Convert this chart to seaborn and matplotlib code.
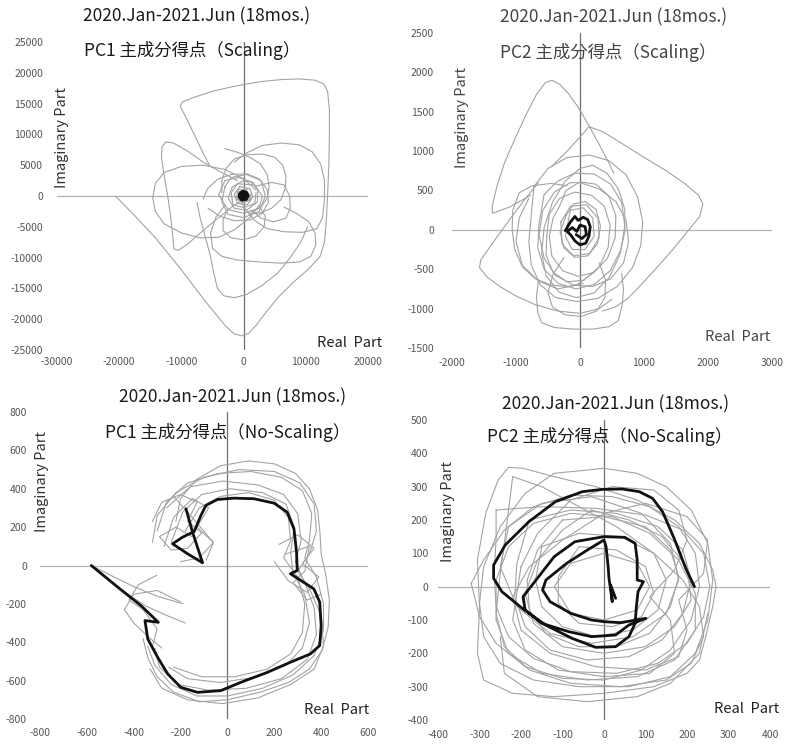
import matplotlib
matplotlib.use("Agg")
import matplotlib.pyplot as plt
import numpy as np
import pandas as pd
import seaborn as sns

# ---------------- PC1 (Scaling) trajectories ----------------
tl_ticks_x = [-30000, -20000, -10000, 0, 10000, 20000]
tl_ticks_y = [25000, 20000, 15000, 10000, 5000, 0, -5000, -10000, -15000, -20000, -25000]

tl_a = [(-5500, 5000), (-7000, 8000), (-8800, 11800), (-10200, 14600), (-9800, 15300), (-8000, 16000),
        (-5000, 17000), (-2000, 17700), (0, 18100), (3000, 18600), (6000, 18900), (9000, 19000),
        (11500, 18800), (12900, 18200), (13500, 17000), (13800, 14000), (13800, 10000), (13700, 5000),
        (13500, 0), (13300, -4000), (13000, -7500), (12300, -9800), (10500, -11800), (8000, -14000),
        (5500, -16500), (3500, -19000), (2000, -21000), (800, -22300), (-300, -22700), (-1500, -22400),
        (-3000, -21000), (-6000, -17300), (-10000, -12000), (-14000, -7000), (-17500, -3200), (-20600, 0)]
tl_b = [(-1000, 2500), (-3500, 3800), (-6500, 5500), (-9000, 7300), (-11300, 8600), (-12500, 8800),
        (-13100, 8000), (-13200, 6200), (-12800, 3500), (-12200, 0), (-11700, -3500), (-11400, -6500),
        (-11200, -8600), (-10500, -8800), (-9000, -7800), (-6500, -5600), (-4000, -3500), (-1500, -1500), (0, -500)]
tl_c = [(2000, 1000), (0, 2800), (-3000, 4300), (-6500, 5000), (-10000, 4800), (-12800, 3800),
        (-14200, 2000), (-14600, -300), (-14200, -2500), (-12800, -4500), (-10000, -6000), (-7000, -6800),
        (-4000, -6700), (-1500, -5500), (1000, -3500), (2500, -1500)]
tl_d = [(-1500, 5500), (500, 7000), (3000, 8200), (6000, 8600), (9000, 8300), (11000, 7200), (12400, 5200),
        (13000, 2500), (13000, -500), (12700, -3500), (11800, -5300), (9500, -5900), (6500, -5800),
        (3800, -5300), (1800, -4000), (400, -2300), (-500, -800)]
tl_e = [(-3000, -1500), (-4500, -3500), (-5300, -6000), (-5000, -8500), (-3500, -9800), (-1000, -10400),
        (2500, -10700), (6000, -10900), (9000, -10700), (10800, -9800), (11600, -8000), (11500, -6000),
        (10500, -4200), (8500, -2800), (6500, -1800)]
tl_f = [(-7500, -1000), (-7000, -3500), (-6200, -6500), (-5400, -9500), (-4800, -12500), (-4200, -15000),
        (-3200, -16200), (-1500, -16500), (500, -16000), (3000, -14500), (5500, -12500), (7500, -10000),
        (9200, -7500), (10300, -5000)]
tl_g = [(-3500, 500), (-3500, 2500), (-2800, 4500), (-1500, 6000), (500, 6700), (3000, 6800), (5000, 6300),
        (6300, 5000), (6800, 3200), (6700, 1200), (6000, -600), (4500, -2000), (2500, -2800), (800, -2800)]
tl_h = [(-3000, 7700), (-1000, 7100), (1000, 6300), (2700, 5200), (3800, 3500), (4100, 1500), (3800, -300),
        (2800, -1800), (1200, -2600)]
tl_i = [(2000, 1600), (4500, 2200), (6500, 1800), (7400, 0), (7500, -2000), (6800, -3600), (4800, -4200),
        (2800, -3600), (1200, -2300)]
tl_j = [(-6500, -500), (-5800, 1200), (-4200, 2700), (-2000, 3500), (500, 3600), (2500, 2800), (3800, 1000),
        (4000, -1000), (3000, -2800), (1000, -3900), (-1500, -4000), (-3800, -3300), (-5700, -2000)]
tl_k = [(-2500, -2000), (-3300, -3800), (-3300, -5600), (-2000, -6800), (0, -7100), (2000, -6500),
        (3300, -5000), (3500, -3300), (2500, -1600)]
tl_s1 = [(0, 2500), (-1800, 1500), (-2500, -300), (-1500, -2000), (500, -2300), (2200, -1000),
         (2300, 1000), (1200, 2300), (0, 2500)]
tl_s2 = [(1500, 1800), (-1000, 2000), (-2000, 500), (-1700, -1400), (0, -1900), (1800, -1200), (2000, 600)]
tl_s3 = [(-600, 1500), (-1500, 300), (-1000, -1200), (600, -1400), (1500, -200), (1000, 1200), (-600, 1500)]
tl_s4 = [(700, 1100), (-900, 1000), (-1200, -400), (-200, -1100), (1100, -700), (1200, 500)]
tl_s5 = [(-3000, 1500), (-3500, -1000), (-2500, -3000), (0, -3500), (2500, -2500), (3500, 0), (2800, 2500),
         (500, 3500), (-2000, 3000), (-3000, 1500)]
tl_s6 = [(1000, -500), (300, 900), (-800, 700), (-900, -500), (0, -1000), (1000, -500)]
tl_s7 = [(-4000, 200), (-3000, 2500), (-800, 3000), (1500, 2200), (3000, 0), (2500, -2000), (0, -2800),
         (-2500, -2200), (-4000, 200)]
tl_black = [(-600, 300), (-200, 700), (400, 600), (700, 100), (400, -500), (-300, -600), (-700, -100),
            (-300, 400), (200, 350), (400, -100), (0, -300), (-300, 0)]

# ---------------- PC2 (Scaling) trajectories ----------------
tr_ticks_x = [-2000, -1000, 0, 1000, 2000, 3000]
tr_ticks_y = [2500, 2000, 1500, 1000, 500, 0, -500, -1000, -1500]

tr_a = [(-770, 440), (-900, 380), (-1100, 290), (-1370, 210), (-1370, 300), (-1300, 550), (-1180, 850),
        (-1020, 1150), (-850, 1450), (-680, 1720), (-540, 1870), (-440, 1900), (-320, 1850), (-180, 1730),
        (-30, 1560), (120, 1350), (270, 1130), (400, 930), (530, 720)]
tr_b = [(-450, 800), (-200, 1000), (0, 1180), (140, 1310), (350, 1250), (650, 1100), (1000, 920),
        (1350, 750), (1650, 580), (1850, 440), (1920, 330), (1870, 170), (1700, 0), (1450, -250),
        (1200, -480), (950, -700), (750, -870), (550, -980), (350, -1030)]
tr_c = [(-650, 600), (-850, 400), (-1100, 130), (-1350, -150), (-1550, -380), (-1570, -480), (-1450, -600),
        (-1250, -720), (-1000, -840), (-700, -950), (-350, -1030), (0, -1060), (300, -1000), (500, -880)]
tr_d = [(-650, -650), (-680, -850), (-660, -1050), (-600, -1180), (-400, -1240), (-100, -1260), (200, -1260),
        (450, -1230), (600, -1150), (660, -950), (680, -750), (650, -550)]
tr_e = [(-720, 550), (-500, 780), (-200, 920), (150, 950), (450, 880), (720, 700), (900, 420), (980, 100),
        (950, -200), (820, -480), (580, -720), (280, -870), (-50, -910), (-380, -860), (-620, -700),
        (-760, -450), (-800, -150), (-760, 200), (-720, 550)]
tr_f = [(-560, 450), (-350, 620), (-80, 720), (220, 710), (480, 580), (650, 350), (700, 50), (640, -250),
        (470, -520), (230, -690), (-60, -750), (-340, -680), (-560, -500), (-660, -230), (-640, 80), (-560, 450)]
tr_g = [(-200, 560), (-450, 590), (-750, 560), (-950, 470), (-1050, 250), (-1060, 0), (-1020, -250),
        (-900, -470), (-700, -620), (-450, -700), (-200, -720), (50, -680)]
tr_h = [(-320, 300), (-220, 500), (0, 610), (250, 580), (450, 430), (560, 180), (550, -100), (430, -360),
        (220, -540), (-30, -590), (-270, -520), (-440, -330), (-480, -80), (-420, 150), (-320, 300)]
tr_i = [(-520, -80), (-480, 200), (-320, 400), (-80, 480), (180, 440), (380, 300), (470, 60), (440, -220),
        (300, -470), (60, -640), (-200, -660), (-420, -540), (-530, -320), (-520, -80)]
tr_j = [(200, 820), (420, 720), (600, 520), (700, 260), (700, -20), (620, -320), (460, -600), (220, -800),
        (-60, -860), (-330, -790), (-530, -580), (-600, -300), (-560, 30), (-430, 350), (-230, 620), (0, 780), (200, 820)]
tr_k = [(-250, -350), (-420, -560), (-500, -800), (-430, -980), (-230, -1080), (20, -1100), (260, -1030),
        (390, -860), (400, -640), (300, -420)]
tr_l = [(-220, 180), (-100, 330), (80, 360), (250, 260), (320, 50), (270, -180), (120, -330), (-80, -350),
        (-250, -230), (-310, -30), (-220, 180)]
tr_m = [(0, 600), (300, 520), (560, 360), (720, 120), (760, -150), (680, -420), (480, -620), (200, -720),
        (-100, -700), (-380, -580), (-560, -360), (-640, -60), (-580, 250), (-400, 480), (-150, 600), (0, 600)]
tr_n = [(-800, 400), (-950, 150), (-1000, -150), (-900, -450), (-650, -650), (-350, -750), (-50, -700), (200, -550)]
tr_p = [(-300, 100), (-150, 300), (100, 320), (280, 150), (300, -100), (150, -300), (-100, -330),
        (-280, -180), (-300, 100)]
tr_q = [(-150, 250), (50, 280), (200, 150), (220, -80), (80, -250), (-120, -250), (-230, -80), (-150, 250)]
tr_black = [(-230, -10), (-150, 100), (-80, 170), (-30, 120), (50, 160), (120, 130), (160, 40),
            (140, -80), (90, -170), (0, -190), (-80, -140), (-140, -70), (-200, -20), (-120, 30),
            (-50, -20), (0, 60), (80, 40), (100, -60), (30, -110), (-60, -60)]

# ---------------- PC1 (No-Scaling) trajectories ----------------
bl_ticks_x = [-800, -600, -400, -200, 0, 200, 400, 600]
bl_ticks_y = [800, 600, 400, 200, 0, -200, -400, -600, -800]

bl_g1 = [(-220, 230), (-200, 350), (-130, 450), (-30, 520), (90, 545), (200, 530), (290, 480), (350, 400),
         (385, 290), (395, 170), (400, 60), (420, -50), (435, -180), (430, -320), (405, -440), (350, -540),
         (260, -610), (140, -660), (0, -700), (-120, -710), (-230, -660), (-300, -580), (-340, -480), (-360, -380)]
bl_g2 = [(-300, 180), (-260, 330), (-170, 430), (-40, 480), (100, 490), (230, 460), (320, 390), (360, 270),
         (350, 130), (330, 40), (380, -60), (410, -200), (410, -340), (370, -470), (280, -570), (150, -640),
         (0, -680), (-130, -680), (-240, -620), (-310, -520), (-340, -420)]
bl_g3 = [(-260, 300), (-160, 410), (-20, 440), (130, 420), (240, 370), (300, 270), (315, 130), (290, 20),
         (330, -90), (370, -220), (380, -360), (340, -490), (230, -590), (80, -640), (-80, -650), (-210, -620),
         (-290, -530), (-310, -430)]
bl_g4 = [(-240, 120), (-190, 280), (-110, 370), (10, 400), (150, 380), (250, 320), (285, 200), (270, 70),
         (280, -40), (330, -150), (350, -300), (320, -430), (250, -520), (130, -580), (-30, -610),
         (-170, -590), (-250, -530)]
bl_g5 = [(-320, 230), (-280, 330), (-200, 370), (-130, 330), (-170, 230), (-110, 170), (-170, 90),
         (-240, 80), (-290, 150), (-220, 200), (-150, 150)]
bl_g6 = [(220, 110), (300, 160), (370, 90), (320, 10), (390, -60), (340, -140), (260, -80), (200, 20)]
bl_g7 = [(-580, 0), (-500, -50), (-400, -110), (-300, -160), (-190, -200)]
bl_g8 = [(-560, -20), (-450, -130), (-350, -210), (-260, -260), (-180, -300)]
bl_g9 = [(-200, -190), (-300, -130), (-400, -150), (-440, -230), (-400, -300), (-330, -380), (-280, -430)]
bl_g10 = [(-320, 120), (-300, 260), (-220, 380), (-100, 460), (50, 500), (200, 490), (310, 430), (370, 320),
          (380, 180), (350, 60), (300, -30), (350, -120), (400, -260), (410, -420), (370, -540), (270, -620),
          (130, -690), (-20, -720), (-170, -700), (-280, -640), (-330, -540)]
bl_g11 = [(-180, 180), (-120, 300), (-30, 360), (90, 380), (200, 340), (260, 250), (270, 130), (240, 40),
          (300, -60), (330, -200), (320, -350), (270, -460), (170, -540), (30, -580), (-110, -580), (-230, -530)]
bl_g12 = [(-270, 100), (-230, 250), (-150, 350), (-80, 300), (-130, 200), (-60, 120), (-120, 40), (-200, 20)]
bl_g13 = [(-230, 360), (-150, 250), (-60, 120), (-90, 30)]
bl_g14 = [(250, 60), (350, 100), (330, -30), (280, -90), (340, -180), (400, -150)]
bl_g15 = [(-300, -50), (-380, -100), (-420, -180), (-360, -230), (-300, -330), (-320, -420)]
bl_black = [(-177, 296), (-149, 174), (-106, 14), (-170, 61), (-234, 113), (-191, 148), (-142, 177),
            (-113, 261), (-92, 313), (-43, 344), (28, 351), (113, 348), (199, 325), (255, 278), (284, 191),
            (295, 70), (298, -26), (269, -43), (369, -122), (394, -191), (400, -313), (394, -417),
            (354, -461), (269, -504), (170, -557), (57, -609), (-28, -652), (-128, -661), (-199, -635),
            (-255, -565), (-298, -478), (-340, -383), (-352, -287), (-295, -296), (-369, -209),
            (-468, -113), (-581, 0)]

# ---------------- PC2 (No-Scaling) trajectories ----------------
br_ticks_x = [-400, -300, -200, -100, 0, 100, 200, 300, 400]
br_ticks_y = [500, 400, 300, 200, 100, 0, -100, -200, -300, -400]

br_r1 = [(-300, -60), (-305, 80), (-285, 220), (-255, 320), (-230, 358), (-195, 355), (-120, 330), (-20, 300),
         (80, 260), (170, 200), (230, 130), (262, 50), (270, 0), (262, -60), (245, -150), (230, -220),
         (200, -260), (120, -300), (0, -320), (-120, -330), (-220, -320), (-290, -280), (-305, -200), (-300, -60)]
br_r2 = [(-120, 340), (0, 355), (80, 340), (150, 300), (210, 230), (250, 130), (262, 20), (250, -100),
         (220, -200), (160, -270), (60, -300), (-60, -300), (-170, -280), (-250, -230), (-290, -150),
         (-300, -50), (-290, 60), (-250, 180), (-190, 280), (-120, 340)]
br_r3 = [(-320, 10), (-290, 80), (-240, 170), (-170, 240), (-80, 275), (20, 270), (110, 240), (180, 180),
         (220, 100), (230, 0), (210, -100), (160, -190), (90, -250), (0, -280), (-100, -275), (-190, -240),
         (-260, -170), (-300, -90), (-320, 10)]
br_r4 = [(-260, 230), (-150, 240), (-20, 235), (100, 215), (190, 170), (240, 100), (255, 0), (240, -90),
         (200, -170), (130, -230), (30, -260), (-80, -255), (-170, -215), (-230, -150), (-260, -60),
         (-265, 40), (-260, 140), (-260, 230)]
br_r5 = [(-220, 330), (-150, 300), (-60, 240), (30, 180), (120, 100), (190, 20), (230, -60), (240, -150),
         (210, -230), (150, -280), (40, -300), (-80, -290), (-180, -250), (-240, -180), (-260, -80),
         (-250, 40), (-235, 180), (-220, 330)]
br_r6 = [(-180, 200), (-80, 230), (30, 220), (130, 180), (190, 110), (210, 20), (190, -80), (140, -160),
         (60, -210), (-40, -220), (-130, -190), (-190, -120), (-215, -30), (-210, 70), (-180, 200)]
br_r7 = [(-100, 200), (0, 210), (100, 180), (160, 110), (180, 30), (160, -60), (110, -140), (30, -180),
         (-60, -180), (-140, -140), (-180, -70), (-185, 20), (-160, 110), (-100, 200)]
br_r8 = [(-30, 230), (60, 200), (140, 150), (200, 60), (210, -40), (170, -120), (100, -180), (0, -200),
         (-100, -180), (-170, -110), (-190, -20), (-160, 80), (-100, 170), (-30, 230)]
br_r9 = [(-150, 120), (-60, 160), (40, 150), (120, 100), (150, 20), (130, -70), (70, -130), (-20, -150),
         (-100, -120), (-150, -60), (-165, 20), (-150, 120)]
br_r10 = [(-60, 120), (30, 110), (100, 60), (120, -20), (90, -90), (20, -120), (-60, -110), (-110, -50),
          (-110, 30), (-60, 120)]
br_r11 = [(-200, 60), (-160, 160), (-80, 260), (20, 300), (120, 290), (180, 230), (200, 140), (170, 50),
          (110, -30), (160, -100), (170, -200), (110, -260), (0, -270), (-110, -250), (-190, -190),
          (-220, -100), (-200, 60)]
br_r12 = [(100, 250), (200, 210), (250, 140), (240, 40), (180, -40), (200, -130), (180, -210), (100, -250),
          (-20, -240), (-130, -200), (-200, -130), (-220, -30), (-180, 60), (-100, 140), (0, 220), (100, 250)]
br_r13 = [(-260, -100), (-230, -200), (-150, -260), (-40, -280), (80, -270), (170, -220), (220, -130),
          (220, -20), (180, 80), (110, 160), (20, 210), (-80, 220), (-170, 190), (-230, 120), (-260, 20), (-260, -100)]
br_r14 = [(0, 100), (80, 70), (110, 0), (80, -70), (0, -100), (-80, -80), (-120, 0), (-80, 70), (0, 100)]
br_r15 = [(-30, 270), (-150, 250), (-230, 180), (-250, 60), (-210, -60), (-130, -140), (-30, -170),
          (70, -150), (150, -80), (180, 20), (160, 130), (90, 220), (-30, 270)]
br_r16 = [(-250, -150), (-240, -260), (-160, -330), (-40, -345), (80, -330), (160, -290), (230, -200), (250, -80)]
br_black = [(28, -35), (16, 5), (20, -45), (12, 25), (10, 60), (5, 120), (0, 140), (-40, 110), (-90, 70),
            (-140, 20), (-148, -10), (-130, -45), (-80, -80), (-30, -100), (0, -105), (40, -108), (101, -95),
            (60, -115), (28, -145), (-30, -150), (-85, -135), (-150, -110), (-190, -70), (-195, -30),
            (-170, 10), (-120, 90), (-70, 135), (0, 150), (50, 148), (75, 130), (80, 80), (80, 20), (95, 15),
            (82, -15), (78, -60), (75, -110), (60, -150), (28, -180), (-20, -182), (-77, -155), (-141, -115),
            (-197, -65), (-246, -15), (-266, 25), (-266, 65), (-238, 125), (-181, 195), (-117, 255),
            (-52, 285), (-4, 292), (44, 293), (85, 285), (117, 265), (141, 225), (169, 145), (197, 55), (218, 0)]

title_top = "2020.Jan-2021.Jun (18mos.)"

W, H = 790, 744
sns.set_theme(style="white")
plt.rcParams["font.family"] = ["Noto Sans CJK JP", "DejaVu Sans"]

fig = plt.figure(figsize=(W / 100, H / 100), dpi=100)
fig.patch.set_facecolor("white")


def frame(curves):
    parts = []
    for k, c in enumerate(curves):
        arr = np.array(c, dtype=float)
        parts.append(pd.DataFrame({"x": arr[:, 0], "y": arr[:, 1], "k": k}))
    return pd.concat(parts, ignore_index=True)


def panel(box, xlim, ylim, xt, yt, gray, black, black_lw, ypad, xpad):
    x0, y0, x1, y1 = box
    ax = fig.add_axes([x0 / W, 1 - y1 / H, (x1 - x0) / W, (y1 - y0) / H])
    ax.set_xlim(*xlim)
    ax.set_ylim(*ylim)
    ax.axhline(0, color="#b4b4b4", lw=0.9, zorder=1)
    ax.axvline(0, color="#6e6e6e", lw=0.9, zorder=1)
    sns.lineplot(data=frame(gray), x="x", y="y", units="k", estimator=None, sort=False,
                 color="#a3a3a3", lw=0.8, ax=ax, legend=False, zorder=2,
                 solid_joinstyle="round")
    sns.lineplot(data=frame(black), x="x", y="y", units="k", estimator=None, sort=False,
                 color="#111111", lw=black_lw, ax=ax, legend=False, zorder=3,
                 solid_joinstyle="round")
    ax.set_xticks(xt)
    ax.set_yticks(yt)
    ax.set_xticklabels([str(v) for v in xt])
    ax.set_yticklabels([str(v) for v in yt])
    ax.tick_params(axis="y", length=0, pad=ypad, labelsize=7.5, labelcolor="#555555")
    ax.tick_params(axis="x", length=0, pad=xpad, labelsize=7.5, labelcolor="#555555")
    ax.set_xlabel("")
    ax.set_ylabel("")
    for s in ax.spines.values():
        s.set_visible(False)
    ax.set_facecolor("none")
    ax.grid(False)
    return ax


def ftext(x, y, s, **kw):
    fig.text(x / W, 1 - y / H, s, ha="center", va="center", **kw)


TFS = 12.5
# top-left
panel((57, 42, 368, 350), (-30000, 20000), (-25000, 25000), tl_ticks_x, tl_ticks_y,
      [tl_a, tl_b, tl_c, tl_d, tl_e, tl_f, tl_g, tl_h, tl_i, tl_j, tl_k,
       tl_s1, tl_s2, tl_s3, tl_s4, tl_s5, tl_s6, tl_s7],
      [tl_black], 2.5, 10, 5)
ftext(197, 16, title_top, fontsize=TFS, color="#1a1a1a")
ftext(192, 50, "PC1 主成分得点（Scaling）", fontsize=TFS, color="#1a1a1a")
ftext(62, 138, "Imaginary Part", fontsize=10.5, color="#333333", rotation=90)
ftext(350, 343, "Real  Part", fontsize=10.5, color="#222222")

# top-right
panel((452, 33, 772, 348), (-2000, 3000), (-1500, 2500), tr_ticks_x, tr_ticks_y,
      [tr_a, tr_b, tr_c, tr_d, tr_e, tr_f, tr_g, tr_h, tr_i, tr_j, tr_k, tr_l, tr_m, tr_n, tr_p, tr_q],
      [tr_black], 2.0, 13, 7)
ftext(614, 17, title_top, fontsize=TFS, color="#444444")
ftext(608, 52, "PC2 主成分得点（Scaling）", fontsize=TFS, color="#444444")
ftext(462, 118, "Imaginary Part", fontsize=10.5, color="#444444", rotation=90)
ftext(738, 337, "Real  Part", fontsize=10.5, color="#444444")

# bottom-left
panel((40, 412, 368, 719), (-800, 600), (-800, 800), bl_ticks_x, bl_ticks_y,
      [bl_g1, bl_g2, bl_g3, bl_g4, bl_g5, bl_g6, bl_g7, bl_g8, bl_g9, bl_g10, bl_g11, bl_g12,
       bl_g13, bl_g14, bl_g15],
      [bl_black], 2.0, 9.5, 6.5)
ftext(233, 397, title_top, fontsize=TFS, color="#1a1a1a")
ftext(228, 432, "PC1 主成分得点（No-Scaling）", fontsize=TFS, color="#1a1a1a")
ftext(42, 482, "Imaginary Part", fontsize=10.5, color="#333333", rotation=90)
ftext(337, 710, "Real  Part", fontsize=10.5, color="#222222")

# bottom-right
panel((438, 420, 770, 720), (-400, 400), (-400, 500), br_ticks_x, br_ticks_y,
      [br_r1, br_r2, br_r3, br_r4, br_r5, br_r6, br_r7, br_r8, br_r9, br_r10, br_r11, br_r12,
       br_r13, br_r14, br_r15, br_r16],
      [br_black], 2.0, 7, 7)
ftext(616, 404, title_top, fontsize=TFS, color="#1a1a1a")
ftext(610, 437, "PC2 主成分得点（No-Scaling）", fontsize=TFS, color="#1a1a1a")
ftext(448, 512, "Imaginary Part", fontsize=10.5, color="#333333", rotation=90)
ftext(747, 709, "Real  Part", fontsize=10.5, color="#222222")

fig.savefig("out.png", dpi=100, facecolor="white")
